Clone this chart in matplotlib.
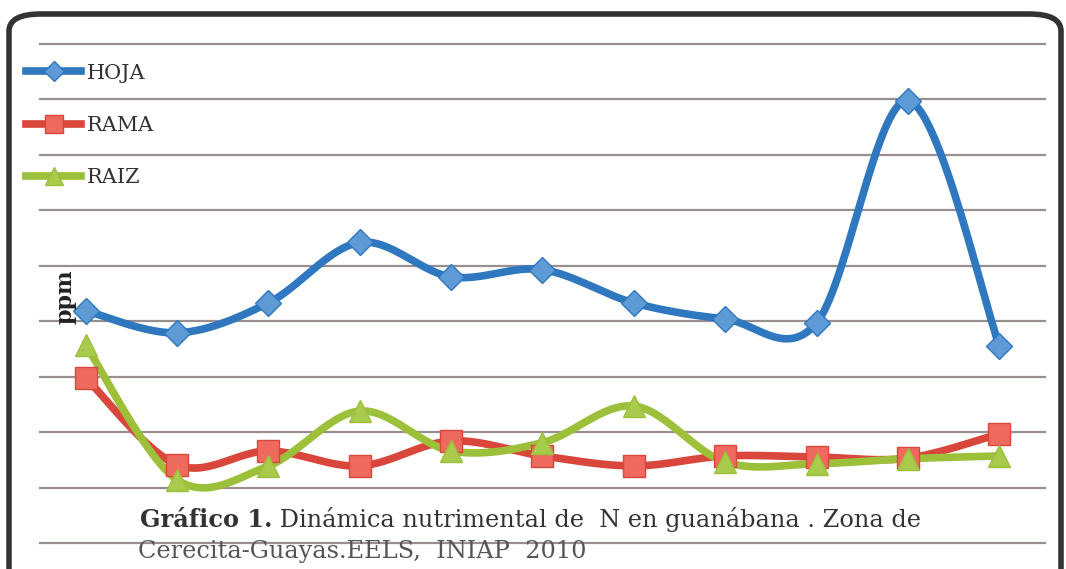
import numpy as np
import matplotlib.pyplot as plt
from matplotlib.patches import FancyBboxPatch

# muestreos (sin etiquetas en el eje x del original)
muestreos = list(range(11))
hoja = [4.19, 3.79, 4.33, 5.42, 4.80, 4.93, 4.33, 4.04, 3.97, 7.98, 3.56]
rama = [2.98, 1.41, 1.66, 1.39, 1.84, 1.57, 1.39, 1.57, 1.55, 1.53, 1.97]
raiz = [3.57, 1.14, 1.39, 2.38, 1.66, 1.81, 2.47, 1.46, 1.43, 1.52, 1.57]
series = ['HOJA', 'RAMA', 'RAIZ']


def suavizar(xs, ys, pasos=30):
    # curva suavizada tipo Excel (Bezier de Catmull-Rom)
    pts = np.column_stack([xs, ys]).astype(float)
    ext = np.vstack([pts[0], pts, pts[-1]])
    out = []
    for i in range(len(pts) - 1):
        p0, p1, p2, p3 = ext[i], ext[i + 1], ext[i + 2], ext[i + 3]
        c1 = p1 + (p2 - p0) / 6
        c2 = p2 - (p3 - p1) / 6
        t = np.linspace(0, 1, pasos)[:, None]
        seg = (1 - t) ** 3 * p1 + 3 * (1 - t) ** 2 * t * c1 + 3 * (1 - t) * t ** 2 * c2 + t ** 3 * p2
        out.append(seg if i == 0 else seg[1:])
    out = np.vstack(out)
    return out[:, 0], out[:, 1]


fig = plt.figure(figsize=(10.66, 5.69), dpi=100)
ax = fig.add_axes([0.0375, 0.0457, 0.9428, 0.877])
ax.set_xlim(-0.5, 10.5)
ax.set_ylim(0, 9)
for s in ax.spines.values():
    s.set_visible(False)
ax.set_xticks([])
ax.set_yticks(np.arange(0, 10))
ax.tick_params(left=False, labelleft=False)
ax.grid(axis='y', color='#9a8f8f', lw=1.6)
for gl in ax.get_ygridlines():
    gl.set_clip_on(False)
ax.set_axisbelow(True)

estilos = [
    (hoja, '#2f78bf', 'D', '#5d9ad6', 13),
    (rama, '#d9473c', 's', '#ee6a5f', 16),
    (raiz, '#9cc03a', '^', '#a8cb4e', 16),
]
handles = []
for (vals, col, mk, mfc, ms), nombre in zip(estilos, series):
    sx, sy = suavizar(muestreos, vals)
    ax.plot(sx, sy, color=col, lw=5.5, solid_capstyle='round', zorder=3)
    ax.plot(muestreos, vals, ls='none', marker=mk, ms=ms, mfc=mfc,
            mec=col, mew=1, zorder=4)
    h, = ax.plot([], [], color=col, lw=5.5, marker=mk, ms=ms * 0.8,
                 mfc=mfc, mec=col, label=nombre)
    handles.append(h)

fig.legend(handles=handles, loc='upper left', bbox_to_anchor=(0.0245, 0.888),
           frameon=False, prop={'family': 'DejaVu Serif', 'size': 15},
           handlelength=2.65, handletextpad=0.25, labelspacing=1.6,
           borderpad=0, borderaxespad=0, labelcolor='#333333')

fig.text(0.061, 0.478, 'ppm', rotation=90, ha='center', va='center',
         family='DejaVu Serif', weight='bold', size=16, color='#222222')

t1 = fig.text(0.131, 1 - 527 / 569, 'Gráfico 1.', family='DejaVu Serif',
              weight='bold', size=17.3, color='#333333', va='baseline')
ax.annotate(' Dinámica nutrimental de  N en guanábana . Zona de',
            xy=(1, 0), xycoords=t1, va='bottom', ha='left',
            family='DejaVu Serif', size=17.3, color='#333333')
fig.text(0.129, 1 - 558 / 569, 'Cerecita-Guayas.EELS,  INIAP  2010',
         family='DejaVu Serif', size=17.3, color='#555555', va='baseline')

marco = FancyBboxPatch((9 / 1066, -0.1), 1052 / 1066, 1.1 - 14 / 569,
                       boxstyle='round,pad=0,rounding_size=0.03',
                       transform=fig.transFigure, fill=False,
                       ec='#333333', lw=4, clip_on=False)
fig.patches.append(marco)

fig.savefig('out.png', dpi=100, facecolor='white')
